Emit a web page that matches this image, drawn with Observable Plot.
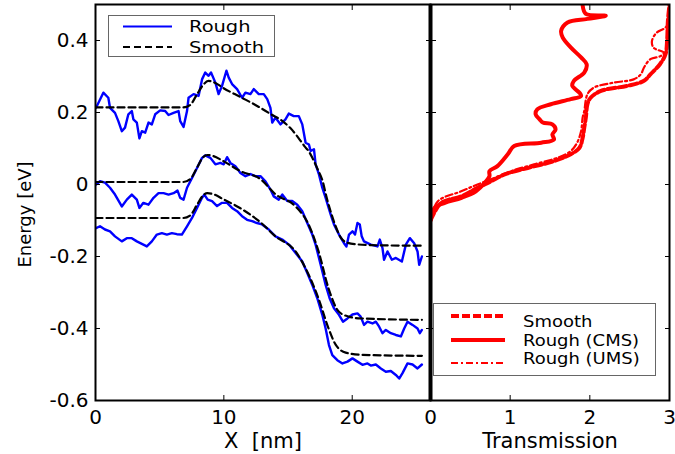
<!DOCTYPE html>
<html><head><meta charset="utf-8">
<script src="https://cdn.jsdelivr.net/npm/d3@7"></script>
<script src="https://cdn.jsdelivr.net/npm/@observablehq/plot@0.6"></script>
<style>
body{margin:0;background:#fff;}
#wrap{position:relative;width:675px;height:454px;overflow:hidden;font-family:"DejaVu Sans",sans-serif;background:#fff;}
#wrap > svg{position:absolute;top:0;}
</style></head><body><div id="wrap"></div>
<script>
// ---------- data (left panel: energy profile vs X [nm]) ----------
const roughTop = [[0.04,0.213],[0.61,0.255],[1.0,0.241],[1.13,0.213],[1.52,0.199],[1.78,0.176],[2.05,0.148],[2.3,0.158],[2.56,0.195],[2.83,0.204],[2.95,0.181],[3.22,0.172],[3.42,0.128],[3.61,0.148],[3.87,0.144],[4.13,0.172],[4.39,0.167],[4.65,0.195],[5.04,0.206],[5.43,0.204],[5.69,0.193],[6.08,0.199],[6.47,0.204],[6.6,0.176],[6.86,0.16],[7.13,0.204],[7.25,0.241],[7.64,0.251],[8.03,0.246],[8.3,0.292],[8.55,0.311],[8.81,0.302],[9.0,0.311],[9.34,0.283],[9.59,0.251],[9.86,0.274],[10.2,0.316],[10.38,0.297],[10.64,0.279],[11.03,0.265],[11.42,0.241],[11.68,0.255],[12.07,0.251],[12.33,0.265],[12.72,0.251],[13.11,0.251],[13.38,0.237],[13.63,0.213],[13.77,0.172],[14.02,0.186],[14.41,0.167],[14.8,0.181],[15.06,0.197],[15.45,0.19],[15.84,0.19],[16.11,0.167],[16.37,0.116],[16.63,0.111],[16.76,0.093],[17.02,0.098],[17.15,0.056],[17.41,0.028],[17.67,-0.009],[17.93,-0.037],[18.32,-0.083],[18.58,-0.111],[18.97,-0.139],[19.36,-0.163],[19.55,-0.172],[19.75,-0.139],[20.02,-0.13],[20.22,-0.139],[20.41,-0.107],[20.59,-0.111],[20.74,-0.144],[20.92,-0.158],[21.45,-0.167],[21.97,-0.172],[22.15,-0.153],[22.36,-0.177],[22.48,-0.209],[22.75,-0.186],[23.09,-0.209],[23.4,-0.204],[23.87,-0.214],[24.18,-0.167],[24.49,-0.149],[24.83,-0.163],[25.09,-0.186],[25.22,-0.223],[25.43,-0.2]];
const roughMid = [[0.04,0.0],[0.35,0.009],[0.74,0.005],[1.13,-0.009],[1.52,-0.028],[2.05,-0.061],[2.44,-0.042],[2.83,-0.028],[3.22,-0.042],[3.42,-0.065],[3.73,-0.051],[4.13,-0.056],[4.52,-0.037],[4.91,-0.024],[5.3,-0.024],[5.69,-0.028],[6.08,-0.024],[6.39,-0.017],[6.6,-0.037],[6.86,-0.042],[7.13,-0.009],[7.52,0.018],[7.91,0.046],[8.3,0.074],[8.55,0.081],[8.95,0.074],[9.34,0.056],[9.73,0.06],[9.99,0.056],[10.25,0.076],[10.51,0.06],[10.9,0.051],[11.29,0.032],[11.68,0.023],[12.07,0.029],[12.46,0.023],[12.85,0.023],[13.24,0.009],[13.63,-0.014],[13.89,-0.033],[14.28,-0.042],[14.55,-0.028],[14.94,-0.046],[15.33,-0.046],[15.72,-0.056],[16.11,-0.074],[16.5,-0.107],[16.89,-0.139],[17.15,-0.167],[17.41,-0.204],[17.67,-0.241],[17.93,-0.279],[18.24,-0.316],[18.58,-0.344],[18.97,-0.362],[19.28,-0.381],[19.63,-0.372],[20.02,-0.361],[20.41,-0.358],[20.66,-0.367],[20.92,-0.39],[21.19,-0.381],[21.58,-0.386],[21.84,-0.381],[22.1,-0.395],[22.36,-0.413],[22.62,-0.404],[23.01,-0.413],[23.4,-0.418],[23.79,-0.422],[24.05,-0.4],[24.31,-0.381],[24.7,-0.39],[25.09,-0.4],[25.27,-0.413],[25.43,-0.404]];
const roughBot = [[0.04,-0.121],[0.35,-0.116],[0.74,-0.125],[1.13,-0.13],[1.52,-0.144],[2.05,-0.158],[2.44,-0.149],[2.83,-0.149],[3.22,-0.158],[3.73,-0.167],[4.0,-0.172],[4.39,-0.158],[4.78,-0.139],[5.17,-0.135],[5.56,-0.139],[5.95,-0.135],[6.34,-0.138],[6.73,-0.139],[7.13,-0.116],[7.52,-0.093],[7.91,-0.065],[8.3,-0.037],[8.48,-0.028],[8.74,-0.042],[9.08,-0.046],[9.47,-0.06],[9.86,-0.051],[10.25,-0.051],[10.64,-0.065],[11.03,-0.074],[11.42,-0.088],[11.81,-0.098],[12.2,-0.102],[12.59,-0.107],[12.98,-0.111],[13.5,-0.125],[14.02,-0.144],[14.55,-0.153],[15.07,-0.167],[15.59,-0.19],[16.11,-0.214],[16.5,-0.246],[16.89,-0.279],[17.28,-0.316],[17.67,-0.362],[17.93,-0.4],[18.19,-0.446],[18.45,-0.474],[18.84,-0.488],[19.24,-0.497],[19.63,-0.492],[20.02,-0.483],[20.41,-0.492],[20.8,-0.501],[21.19,-0.497],[21.45,-0.503],[21.84,-0.5],[22.23,-0.511],[22.62,-0.52],[23.01,-0.518],[23.4,-0.529],[23.66,-0.539],[23.92,-0.524],[24.31,-0.497],[24.7,-0.5],[25.09,-0.511],[25.43,-0.5]];
const smoothTop = [[0,0.214],[6.84,0.214],[7.38,0.221],[7.93,0.252],[8.4,0.277],[8.79,0.288],[9.34,0.282],[9.96,0.268],[11.29,0.243],[12.46,0.221],[13.63,0.196],[14.57,0.176],[15.2,0.156],[15.82,0.129],[16.29,0.106],[16.6,0.093],[16.91,0.073],[17.3,0.043],[17.7,0.009],[18.0,-0.035],[18.32,-0.075],[18.71,-0.116],[19.1,-0.147],[19.57,-0.161],[20.27,-0.166],[22.23,-0.169],[25.43,-0.17]];
const smoothMid = [[0,0.007],[6.84,0.007],[7.38,0.015],[7.93,0.048],[8.32,0.073],[8.71,0.082],[9.18,0.079],[9.96,0.065],[11.29,0.037],[12.85,0.015],[14.02,-0.027],[15.59,-0.061],[16.6,-0.111],[17.38,-0.186],[18.16,-0.289],[18.95,-0.353],[19.73,-0.367],[20.66,-0.372],[25.43,-0.376]];
const smoothBot = [[0,-0.093],[6.84,-0.093],[7.38,-0.086],[7.93,-0.055],[8.32,-0.033],[8.71,-0.024],[9.18,-0.027],[9.96,-0.041],[11.29,-0.066],[12.85,-0.105],[14.02,-0.144],[15.59,-0.186],[16.6,-0.25],[17.38,-0.317],[18.16,-0.4],[18.71,-0.445],[19.49,-0.467],[20.66,-0.473],[25.43,-0.476]];

// ---------- data (right panel: transmission vs energy) ----------
const transSmooth = [[0,-0.1],[0.135,-0.051],[0.385,-0.033],[0.59,-0.009],[0.76,0.009],[0.93,0.028],[1.22,0.046],[1.55,0.065],[1.76,0.084],[1.87,0.102],[1.91,0.13],[1.93,0.158],[1.95,0.186],[1.97,0.223],[2.01,0.241],[2.14,0.26],[2.47,0.274],[2.68,0.288],[2.76,0.306],[2.88,0.334],[2.95,0.362],[2.97,0.4],[2.98,0.455],[3.0,0.5]];
const transCMS = [[0,-0.1],[0.05,-0.065],[0.18,-0.051],[0.39,-0.037],[0.57,-0.019],[0.68,0.004],[0.74,0.023],[0.74,0.037],[0.84,0.051],[0.97,0.084],[1.05,0.107],[1.39,0.116],[1.55,0.125],[1.53,0.139],[1.57,0.153],[1.53,0.167],[1.41,0.172],[1.37,0.181],[1.32,0.195],[1.34,0.209],[1.51,0.223],[1.76,0.237],[1.89,0.246],[1.87,0.255],[1.78,0.274],[1.8,0.288],[1.93,0.311],[1.96,0.334],[1.89,0.353],[1.76,0.381],[1.66,0.408],[1.64,0.427],[1.72,0.45],[1.97,0.46],[2.2,0.469],[1.95,0.474],[1.91,0.497]];
const transUMS = [[0,-0.1],[0.09,-0.047],[0.385,-0.019],[0.59,0.0],[0.8,0.018],[1.01,0.037],[1.3,0.056],[1.59,0.074],[1.76,0.093],[1.84,0.116],[1.89,0.148],[1.91,0.186],[1.93,0.204],[1.97,0.251],[2.05,0.269],[2.3,0.283],[2.55,0.292],[2.64,0.306],[2.68,0.325],[2.76,0.348],[2.89,0.357],[2.93,0.366],[2.8,0.38],[2.78,0.399],[2.84,0.422],[2.95,0.436],[3.0,0.455],[3.06,0.48]];

// ---------- ticks & labels ----------
const energyTicks = [-0.6, -0.4, -0.2, 0, 0.2, 0.4];
const xTicks = [0, 10, 20];
const transTicks = [0, 1, 2, 3];
const leftLegend = ["Rough", "Smooth"];
const rightLegend = ["Smooth", "Rough (CMS)", "Rough (UMS)"];

const pts = (arr) => arr.map(([a, b]) => ({a, b}));
const fmt = d => String(+d.toFixed(1));
const FONT = "DejaVu Sans";

const wrap = document.getElementById("wrap");

// ---------- left panel ----------
const left = Plot.plot({
  width: 432, height: 454,
  marginLeft: 95, marginRight: 2, marginTop: 4, marginBottom: 54,
  style: {fontFamily: FONT, fontSize: "20px", color: "black", background: "transparent", overflow: "visible"},
  x: {domain: [0, 26.1]},
  y: {domain: [-0.6, 0.5]},
  marks: [
    Plot.line(pts(roughTop), {x: "a", y: "b", stroke: "#0000ff", strokeWidth: 2.4, clip: true}),
    Plot.line(pts(roughMid), {x: "a", y: "b", stroke: "#0000ff", strokeWidth: 2.4, clip: true}),
    Plot.line(pts(roughBot), {x: "a", y: "b", stroke: "#0000ff", strokeWidth: 2.4, clip: true}),
    Plot.line(pts(smoothTop), {x: "a", y: "b", stroke: "black", strokeWidth: 2.2, strokeDasharray: "7,4", curve: "monotone-x", clip: true}),
    Plot.line(pts(smoothMid), {x: "a", y: "b", stroke: "black", strokeWidth: 2.2, strokeDasharray: "7,4", curve: "monotone-x", clip: true}),
    Plot.line(pts(smoothBot), {x: "a", y: "b", stroke: "black", strokeWidth: 2.2, strokeDasharray: "7,4", curve: "monotone-x", clip: true}),
    Plot.frame({stroke: "black", strokeWidth: 2}),
    // labels
    Plot.axisY({anchor: "left", ticks: energyTicks, tickSize: 0, tickPadding: 7, tickFormat: fmt, label: null, fontSize: 20}),
    Plot.axisX({anchor: "bottom", ticks: xTicks, tickSize: 0, tickPadding: 9, tickFormat: fmt, label: null, fontSize: 20}),
    Plot.axisX({anchor: "bottom", ticks: [], label: "X  [nm]", labelAnchor: "center", labelArrow: "none", labelOffset: 47, fontSize: 21}),
    Plot.text(["Energy [eV]"], {text: d => d, frameAnchor: "left", textAnchor: "middle", dx: -70, dy: 12, rotate: -90, fontSize: 18}),
    // inward ticks
    Plot.axisY({anchor: "left", ticks: energyTicks, tickSize: 5, dx: 5, tickFormat: () => "", label: null}),
    Plot.axisY({anchor: "right", ticks: energyTicks, tickSize: 5, dx: -5, tickFormat: () => "", label: null}),
    Plot.axisX({anchor: "bottom", ticks: xTicks, tickSize: 5, dy: -5, tickFormat: () => "", label: null}),
    Plot.axisX({anchor: "top", ticks: xTicks, tickSize: 5, dy: 5, tickFormat: () => "", label: null})
  ]
});
left.style.left = "0px";
wrap.appendChild(left);

// ---------- right panel ----------
const right = Plot.plot({
  width: 247, height: 454,
  marginLeft: 2, marginRight: 6, marginTop: 4, marginBottom: 54,
  style: {fontFamily: FONT, fontSize: "20px", color: "black", background: "transparent", overflow: "visible"},
  x: {domain: [0, 3]},
  y: {domain: [-0.6, 0.5]},
  marks: [
    Plot.line(pts(transSmooth), {x: "a", y: "b", stroke: "#ff0000", strokeWidth: 4, strokeDasharray: "8,3", curve: "catmull-rom", clip: true}),
    Plot.line(pts(transUMS), {x: "a", y: "b", stroke: "#ff0000", strokeWidth: 2.2, strokeDasharray: "7,3,2,3", curve: "catmull-rom", clip: true}),
    Plot.line(pts(transCMS), {x: "a", y: "b", stroke: "#ff0000", strokeWidth: 4, curve: "catmull-rom", clip: true}),
    Plot.frame({stroke: "black", strokeWidth: 2}),
    Plot.ruleX([0], {stroke: "black", strokeWidth: 4}),
    Plot.axisX({anchor: "bottom", ticks: transTicks, tickSize: 0, tickPadding: 9, tickFormat: fmt, label: null, fontSize: 20}),
    Plot.axisX({anchor: "bottom", ticks: [], label: "Transmission", labelAnchor: "center", labelArrow: "none", labelOffset: 47, fontSize: 21}),
    Plot.axisY({anchor: "left", ticks: energyTicks, tickSize: 5, dx: 6, tickFormat: () => "", label: null}),
    Plot.axisY({anchor: "right", ticks: energyTicks, tickSize: 5, dx: -5, tickFormat: () => "", label: null}),
    Plot.axisX({anchor: "bottom", ticks: transTicks, tickSize: 5, dy: -5, tickFormat: () => "", label: null}),
    Plot.axisX({anchor: "top", ticks: transTicks, tickSize: 5, dy: 5, tickFormat: () => "", label: null})
  ]
});
right.style.left = "428px";
wrap.appendChild(right);

// ---------- legends (overlay) ----------
const ov = d3.select(wrap).append("svg")
  .attr("width", 675).attr("height", 454)
  .style("left", "0px").style("pointer-events", "none")
  .style("font-family", FONT);

const L1 = ov.append("g");
L1.append("rect").attr("x", 108.5).attr("y", 15.5).attr("width", 166).attr("height", 41)
  .attr("fill", "white").attr("stroke", "#666").attr("stroke-width", 1);
const l1Styles = [{stroke: "#0000ff", dash: null}, {stroke: "black", dash: "7,4"}];
leftLegend.forEach((name, i) => {
  const y = 26.5 + i * 20.5;
  L1.append("line").attr("x1", 123).attr("x2", 172).attr("y1", y).attr("y2", y)
    .attr("stroke", l1Styles[i].stroke).attr("stroke-width", 2.2).attr("stroke-dasharray", l1Styles[i].dash);
  L1.append("text").attr("transform", `translate(189,${y}) scale(1.18,1)`).attr("dy", "0.36em")
    .attr("font-size", 16.5).text(name);
});

const L2 = ov.append("g");
L2.append("rect").attr("x", 433.5).attr("y", 303.5).attr("width", 222).attr("height", 72)
  .attr("fill", "white").attr("stroke", "#666").attr("stroke-width", 1);
const l2Styles = [
  {w: 4, dash: "8,3", ly: 316, ty: 322},
  {w: 4, dash: null, ly: 340, ty: 340.5},
  {w: 2.2, dash: "7,3,2,3", ly: 363, ty: 359}
];
rightLegend.forEach((name, i) => {
  const s = l2Styles[i];
  L2.append("line").attr("x1", 451).attr("x2", 505).attr("y1", s.ly).attr("y2", s.ly)
    .attr("stroke", "#ff0000").attr("stroke-width", s.w).attr("stroke-dasharray", s.dash);
  L2.append("text").attr("transform", `translate(523,${s.ty}) scale(1.2,1)`).attr("dy", "0.36em")
    .attr("font-size", 15).text(name);
});
</script></body></html>
